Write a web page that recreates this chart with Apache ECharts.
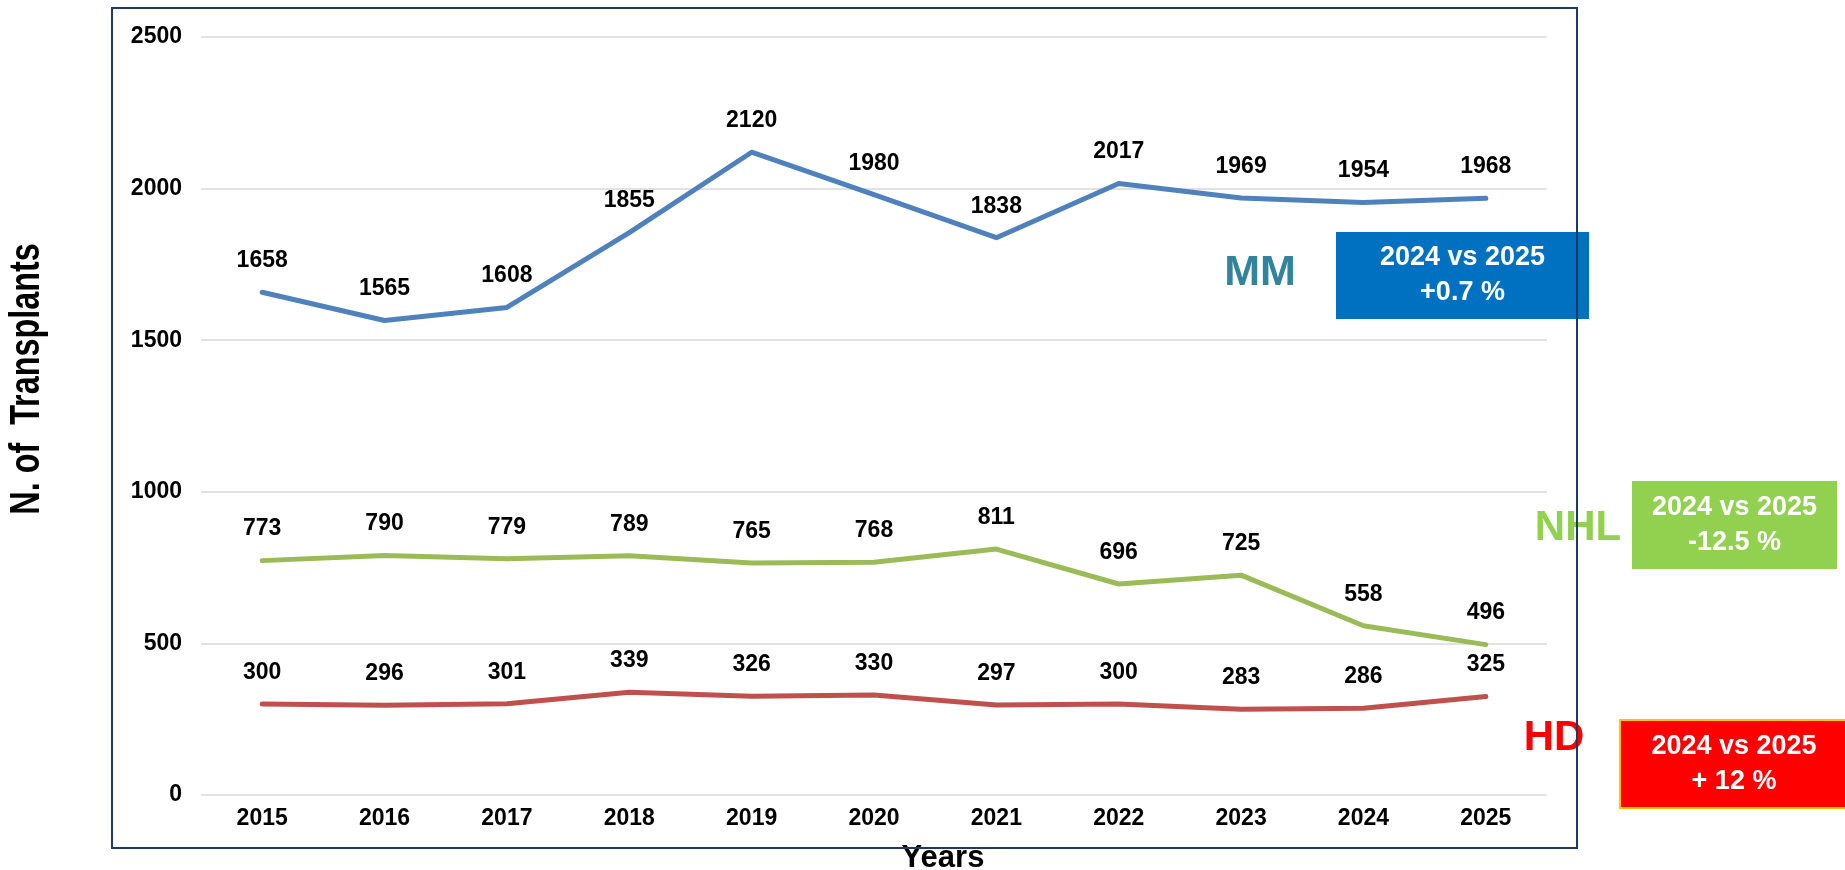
<!DOCTYPE html>
<html>
<head>
<meta charset="utf-8">
<title>N. of Transplants</title>
<script src="https://cdn.jsdelivr.net/npm/echarts@6/dist/echarts.min.js"></script>
<style>
  html, body {
    margin: 0;
    padding: 0;
    background: #fff;
  }
  .chart-wrap {
    width: 1845px;
    height: 870px;
  }
</style>
</head>
<body>
<div id="main" class="chart-wrap"></div>
<script>
  // data
  const years = ['2015', '2016', '2017', '2018', '2019', '2020', '2021', '2022', '2023', '2024', '2025'];
  const mmValues = [1658, 1565, 1608, 1855, 2120, 1980, 1838, 2017, 1969, 1954, 1968];
  const nhlValues = [773, 790, 779, 789, 765, 768, 811, 696, 725, 558, 496];
  const hdValues = [300, 296, 301, 339, 326, 330, 297, 300, 283, 286, 325];
  const yTicks = [0, 500, 1000, 1500, 2000, 2500];

  const font = '"Liberation Sans", Arial, Helvetica, sans-serif';

  function lineSeries(name, color, values) {
    return {
      name: name,
      type: 'line',
      data: values,
      symbol: 'circle',
      symbolSize: 2,
      itemStyle: {
        color: color
      },
      lineStyle: {
        color: color,
        width: 5,
        cap: 'round',
        join: 'round'
      },
      label: {
        show: true,
        position: 'top',
        distance: 19,
        color: '#000',
        fontFamily: font,
        fontWeight: 'bold',
        fontSize: 23
      },
      emphasis: {
        disabled: true
      }
    }
  }

  // coloured box with two lines of text
  function compareBox(x, y, w, h, fill, stroke, text) {
    return [{
        type: 'rect',
        z: 10,
        shape: { x: x, y: y, width: w, height: h },
        style: { fill: fill, stroke: stroke, lineWidth: stroke ? 2 : 0 }
      },
      {
        type: 'text',
        z: 11,
        x: x + w / 2,
        y: y + h / 2,
        style: {
          text: text,
          fill: '#fff',
          font: 'bold 27px ' + font,
          align: 'center',
          verticalAlign: 'middle',
          lineHeight: 35
        }
      }
    ]
  }

  const myChart = echarts.init(document.getElementById('main'));

  const options = {
    backgroundColor: '#fff',
    animation: false,
    grid: {
      left: 201,
      right: 298,
      top: 37,
      bottom: 75
    },
    xAxis: {
      type: 'category',
      data: years,
      boundaryGap: true,
      axisLine: { show: false },
      axisTick: { show: false },
      axisLabel: {
        color: '#000',
        fontFamily: font,
        fontWeight: 'bold',
        fontSize: 23,
        margin: 12
      }
    },
    yAxis: {
      type: 'value',
      min: yTicks[0],
      max: yTicks[yTicks.length - 1],
      interval: yTicks[1] - yTicks[0],
      axisLine: { show: false },
      axisTick: { show: false },
      axisLabel: {
        color: '#000',
        fontFamily: font,
        fontWeight: 'bold',
        fontSize: 23,
        margin: 19,
        formatter: function (v) {
          return String(v);
        }
      },
      splitLine: {
        show: true,
        lineStyle: {
          color: '#D9D9D9',
          width: 1.5
        }
      }
    },
    series: [
      lineSeries('MM', '#4F81BD', mmValues),
      lineSeries('NHL', '#9BBB59', nhlValues),
      lineSeries('HD', '#C0504D', hdValues)
    ],
    graphic: [
      // axis titles
      {
        type: 'text',
        x: 27,
        y: 379,
        rotation: Math.PI / 2,
        scaleX: 0.77,
        style: {
          text: 'N. of  Transplants',
          fill: '#000',
          font: 'bold 42px ' + font,
          align: 'center',
          verticalAlign: 'middle'
        }
      },
      {
        type: 'text',
        x: 943,
        y: 858,
        style: {
          text: 'Years',
          fill: '#000',
          font: 'bold 31px ' + font,
          align: 'center',
          verticalAlign: 'middle'
        }
      },
      // series names
      {
        type: 'text',
        x: 1260,
        y: 273,
        z: 12,
        style: {
          text: 'MM',
          fill: '#31849B',
          font: 'bold 43px ' + font,
          align: 'center',
          verticalAlign: 'middle'
        }
      },
      {
        type: 'text',
        x: 1578,
        y: 528,
        z: 12,
        style: {
          text: 'NHL',
          fill: '#92D050',
          font: 'bold 42px ' + font,
          align: 'center',
          verticalAlign: 'middle'
        }
      },
      {
        type: 'text',
        x: 1554,
        y: 738,
        z: 12,
        style: {
          text: 'HD',
          fill: '#FF0000',
          font: 'bold 42px ' + font,
          align: 'center',
          verticalAlign: 'middle'
        }
      },
      ...compareBox(1336, 232, 253, 87, '#0070C0', null, '2024 vs 2025\n+0.7 %'),
      ...compareBox(1632, 481, 205, 88, '#92D050', null, '2024 vs 2025\n-12.5 %'),
      ...compareBox(1620, 720, 228, 88, '#FF0000', '#FFC000', '2024 vs 2025\n+ 12 %'),
      // frame round the plot, drawn on top
      {
        type: 'rect',
        z: 100,
        shape: { x: 112, y: 8, width: 1465, height: 840 },
        style: { fill: null, stroke: '#203864', lineWidth: 2 }
      }
    ]
  };

  myChart.setOption(options);
</script>
</body>
</html>
